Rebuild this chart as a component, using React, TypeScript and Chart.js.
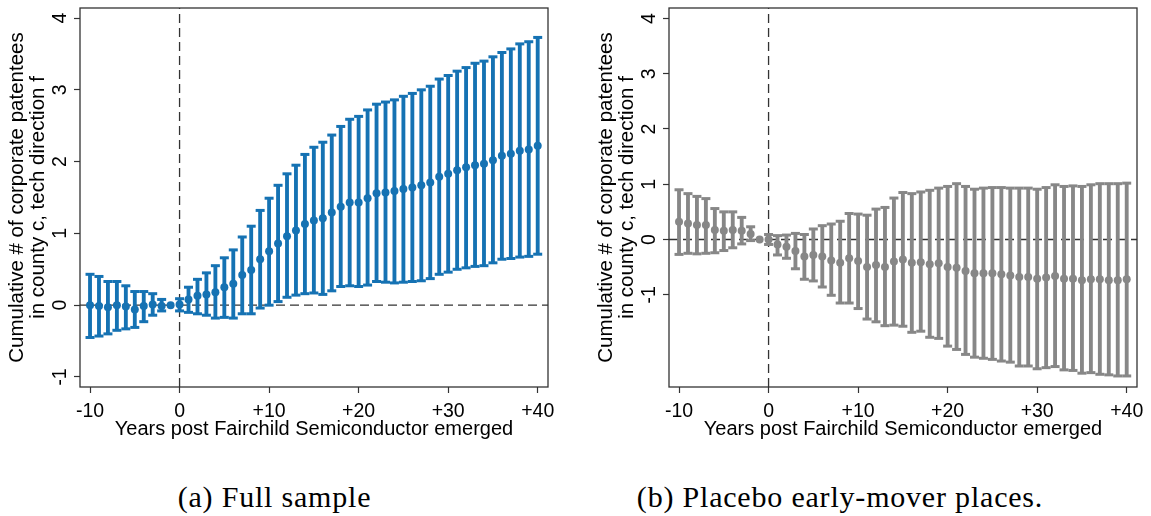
import React, { useEffect, useRef } from 'react';
import { Chart, registerables } from 'chart.js';

Chart.register(...registerables);

// ---------- data ----------
const years = [
  -10, -9, -8, -7, -6, -5, -4, -3, -2, -1,
  0, 1, 2, 3, 4, 5, 6, 7, 8, 9,
  10, 11, 12, 13, 14, 15, 16, 17, 18, 19,
  20, 21, 22, 23, 24, 25, 26, 27, 28, 29,
  30, 31, 32, 33, 34, 35, 36, 37, 38, 39, 40,
];

// Panel (a) Full sample
const fullEst = [
  0.0, -0.01, -0.03, 0.0, -0.02, -0.06, -0.01, 0.01, -0.01, 0.0,
  0.01, 0.08, 0.13, 0.15, 0.18, 0.25, 0.3, 0.42, 0.49, 0.64,
  0.75, 0.86, 0.96, 1.04, 1.13, 1.18, 1.21, 1.29, 1.37, 1.43,
  1.43, 1.49, 1.56, 1.57, 1.59, 1.62, 1.64, 1.67, 1.71, 1.79,
  1.83, 1.88, 1.92, 1.95, 1.97, 2.02, 2.08, 2.11, 2.15, 2.17, 2.22,
];
const fullHi = [
  0.43, 0.4, 0.33, 0.33, 0.27, 0.19, 0.19, 0.16, 0.08, 0.0,
  0.09, 0.25, 0.36, 0.45, 0.55, 0.66, 0.77, 0.95, 1.1, 1.32,
  1.49, 1.67, 1.83, 1.95, 2.1, 2.2, 2.27, 2.37, 2.49, 2.59,
  2.63, 2.72, 2.8, 2.83, 2.86, 2.91, 2.95, 3.0, 3.05, 3.15,
  3.2, 3.26, 3.31, 3.37, 3.4, 3.46, 3.52, 3.57, 3.64, 3.67, 3.73,
];
const fullLo = [
  -0.45, -0.43, -0.4, -0.35, -0.33, -0.31, -0.23, -0.14, -0.08, 0.0,
  -0.08, -0.1, -0.12, -0.14, -0.18, -0.17, -0.18, -0.12, -0.12, -0.04,
  0.0, 0.05, 0.11, 0.14, 0.16, 0.17, 0.15, 0.2, 0.26, 0.27,
  0.26, 0.28, 0.33, 0.32, 0.31, 0.32, 0.33, 0.34, 0.37, 0.43,
  0.46, 0.5, 0.52, 0.54, 0.55, 0.59, 0.64, 0.65, 0.67, 0.68, 0.71,
];

// Panel (b) Placebo early-mover places
const placeboEst = [
  0.32, 0.29, 0.26, 0.26, 0.17, 0.16, 0.17, 0.16, 0.1, 0.0,
  0.0, -0.09, -0.13, -0.21, -0.31, -0.28, -0.31, -0.38, -0.42, -0.34,
  -0.39, -0.5, -0.46, -0.5, -0.4, -0.36, -0.42, -0.41, -0.45, -0.43,
  -0.5, -0.51, -0.57, -0.61, -0.61, -0.61, -0.63, -0.65, -0.68, -0.68,
  -0.71, -0.69, -0.66, -0.71, -0.71, -0.74, -0.72, -0.72, -0.74, -0.74, -0.72,
];
const placeboHi = [
  0.9, 0.83, 0.78, 0.74, 0.56, 0.5, 0.5, 0.4, 0.23, 0.0,
  0.09, 0.07, 0.08, 0.11, 0.09, 0.19, 0.25, 0.28, 0.33, 0.47,
  0.46, 0.44, 0.55, 0.58, 0.75, 0.85, 0.83, 0.86, 0.89, 0.93,
  0.96, 1.01, 0.96, 0.91, 0.93, 0.94, 0.94, 0.93, 0.93, 0.93,
  0.91, 0.94, 0.99, 0.96, 0.97, 0.96, 0.99, 1.01, 1.01, 1.01, 1.02,
];
const placeboLo = [
  -0.27, -0.25, -0.26, -0.25, -0.24, -0.2, -0.15, -0.08, -0.02, 0.0,
  -0.09, -0.28, -0.34, -0.53, -0.72, -0.75, -0.86, -1.01, -1.15, -1.15,
  -1.25, -1.44, -1.49, -1.56, -1.55, -1.57, -1.68, -1.66, -1.77, -1.79,
  -1.93, -1.99, -2.08, -2.13, -2.15, -2.17, -2.2, -2.22, -2.29, -2.29,
  -2.34, -2.32, -2.3, -2.36, -2.37, -2.42, -2.41, -2.44, -2.45, -2.47, -2.47,
];

const xTickValues = [-10, 0, 10, 20, 30, 40];
const xTickLabels = ['-10', '0', '+10', '+20', '+30', '+40'];
const yTickValues = [-1, 0, 1, 2, 3, 4];
const yTickLabels = ['-1', '0', '1', '2', '3', '4'];

const xTitle = 'Years post Fairchild Semiconductor emerged';
const yTitle = ['Cumulative # of corporate patentees', 'in county c, tech direction f'];
const captionA = '(a) Full sample';
const captionB = '(b) Placebo early-mover places.';

const refX = 0;
const refY = 0;
const xMin = -11.12;
const xMax = 41.15;

// ---------- chart ----------
const SANS = "'Liberation Sans', Arial, sans-serif";

const framePlugin = {
  id: 'frame',
  afterDatasetsDraw(chart: any) {
    const { ctx, chartArea } = chart;
    const { left, top, right, bottom } = chartArea;
    ctx.save();
    ctx.strokeStyle = '#333';
    ctx.lineWidth = 1.3;
    ctx.strokeRect(left, top, right - left, bottom - top);
    ctx.restore();
  },
};

type PanelProps = {
  est: number[];
  lo: number[];
  hi: number[];
  color: string;
  yMin: number;
  yMax: number;
  width: number;
  height: number;
  left: number;
  rightPad: number;
};

function Panel(p: PanelProps) {
  const ref = useRef<HTMLCanvasElement | null>(null);
  useEffect(() => {
    if (!ref.current) return;
    const bars = years.map((t, i) => ({ x: t, y: [p.lo[i], p.hi[i]] }));
    const hasBar = years.map((_, i) => p.hi[i] !== p.lo[i]);
    const capsLo = years.map((t, i) => ({ x: t, y: p.lo[i] })).filter((_, i) => hasBar[i]);
    const capsHi = years.map((t, i) => ({ x: t, y: p.hi[i] })).filter((_, i) => hasBar[i]);
    const pts = years.map((t, i) => ({ x: t, y: p.est[i] }));
    const chart = new Chart(ref.current, {
      type: 'bar',
      data: {
        datasets: [
          {
            type: 'line',
            data: [{ x: refX, y: p.yMin }, { x: refX, y: p.yMax }],
            borderColor: '#333',
            borderWidth: 1.3,
            borderDash: [9, 5],
            pointRadius: 0,
            fill: false,
            order: 10,
          } as any,
          {
            type: 'line',
            data: [{ x: xMin, y: refY }, { x: xMax, y: refY }],
            borderColor: '#333',
            borderWidth: 1.3,
            borderDash: [9, 5],
            pointRadius: 0,
            fill: false,
            order: 10,
          } as any,
          {
            type: 'bar',
            data: bars,
            backgroundColor: p.color,
            borderWidth: 0,
            barThickness: 3.2,
            grouped: false,
            order: 5,
          } as any,
          {
            type: 'scatter',
            data: capsLo,
            pointStyle: 'line',
            pointRadius: 4.5,
            borderColor: p.color,
            borderWidth: 3,
            order: 3,
          } as any,
          {
            type: 'scatter',
            data: capsHi,
            pointStyle: 'line',
            pointRadius: 4.5,
            borderColor: p.color,
            borderWidth: 3,
            order: 3,
          } as any,
          {
            type: 'scatter',
            data: pts,
            pointRadius: 4,
            backgroundColor: p.color,
            borderWidth: 0,
            order: 1,
          } as any,
        ],
      },
      options: {
        animation: false,
        responsive: false,
        devicePixelRatio: 1,
        layout: { padding: { top: 8, left: 0, right: p.rightPad, bottom: 0 } },
        plugins: {
          legend: { display: false },
          tooltip: { enabled: false },
          title: { display: false },
        },
        scales: {
          x: {
            type: 'linear',
            min: xMin,
            max: xMax,
            offset: false,
            afterBuildTicks: (s: any) => {
              s.ticks = xTickValues.map((v) => ({ value: v }));
            },
            afterFit: (s: any) => {
              s.height = 63;
              s.paddingLeft = 0;
              s.paddingRight = 0;
            },
            ticks: {
              autoSkip: false,
              maxRotation: 0,
              minRotation: 0,
              padding: 7,
              color: '#000',
              font: { family: SANS, size: 19.5 },
              callback: (v: any) => {
                const k = xTickValues.indexOf(Number(v));
                return k >= 0 ? xTickLabels[k] : '';
              },
            },
            grid: {
              offset: false,
              drawOnChartArea: false,
              drawTicks: true,
              tickLength: 6,
              tickColor: '#333',
              tickWidth: 1.2,
            },
            border: { display: false },
            title: {
              display: true,
              text: xTitle,
              color: '#000',
              font: { family: SANS, size: 20, lineHeight: 1.2 },
              padding: { top: 0, bottom: 9 },
            },
          },
          y: {
            type: 'linear',
            min: p.yMin,
            max: p.yMax,
            afterBuildTicks: (s: any) => {
              s.ticks = yTickValues.map((v) => ({ value: v }));
            },
            afterFit: (s: any) => {
              s.width = 80;
              s.paddingTop = 0;
              s.paddingBottom = 0;
            },
            ticks: {
              autoSkip: false,
              minRotation: 90,
              maxRotation: 90,
              crossAlign: 'center',
              padding: 4.5,
              color: '#000',
              font: { family: SANS, size: 19.5 },
              callback: (v: any) => {
                const k = yTickValues.indexOf(Number(v));
                return k >= 0 ? yTickLabels[k] : '';
              },
            },
            grid: {
              drawOnChartArea: false,
              drawTicks: true,
              tickLength: 6,
              tickColor: '#333',
              tickWidth: 1.2,
            },
            border: { display: false },
            title: {
              display: true,
              text: yTitle,
              color: '#000',
              font: { family: SANS, size: 20.5, lineHeight: 1.05 },
              padding: { top: 6.5, bottom: 0 },
            },
          },
        },
      } as any,
      plugins: [framePlugin],
    });
    return () => chart.destroy();
  }, []);
  return (
    <canvas
      ref={ref}
      width={p.width}
      height={p.height}
      style={{ position: 'absolute', left: p.left, top: 0, width: p.width, height: p.height }}
    />
  );
}

const captionStyle = (center: number): React.CSSProperties => ({
  position: 'absolute',
  left: center - 300,
  width: 600,
  top: 479,
  lineHeight: '36px',
  textAlign: 'center',
  fontFamily: "'Liberation Serif', 'Times New Roman', serif",
  fontSize: 30,
  letterSpacing: '0.8px',
  color: '#000',
  whiteSpace: 'nowrap',
});

export default function App() {
  return (
    <div style={{ position: 'absolute', left: 0, top: 0, width: 1151, height: 516, background: '#fff', overflow: 'hidden' }}>
      <Panel est={fullEst} lo={fullLo} hi={fullHi} color="#1572b3" yMin={-1.14} yMax={4.14} width={589} height={450} left={0} rightPad={41} />
      <Panel est={placeboEst} lo={placeboLo} hi={placeboHi} color="#878787" yMin={-2.67} yMax={4.19} width={562} height={450} left={589} rightPad={14} />
      <div style={captionStyle(274.5)}>{captionA}</div>
      <div style={captionStyle(840)}>{captionB}</div>
    </div>
  );
}
